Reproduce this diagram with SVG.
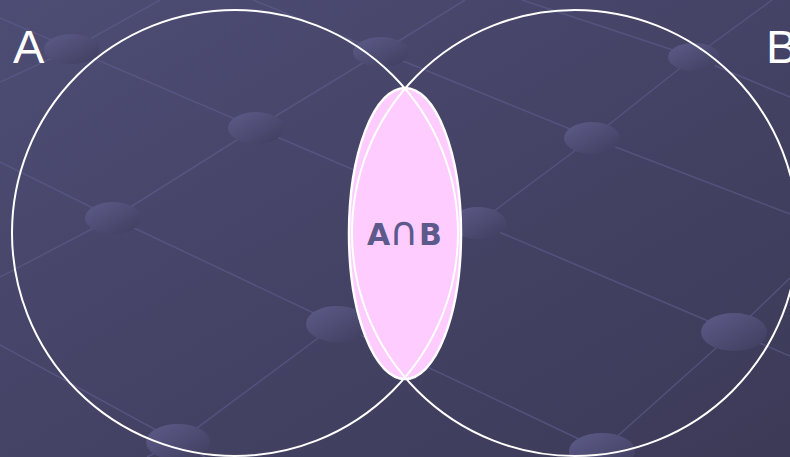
<svg xmlns="http://www.w3.org/2000/svg" width="790" height="457" viewBox="0 0 790 457">
<defs>
<linearGradient id="bg" x1="0" y1="0" x2="1" y2="1">
<stop offset="0" stop-color="#4d4c74"/>
<stop offset="1" stop-color="#3c3a57"/>
</linearGradient>
<linearGradient id="dot" x1="0" y1="0" x2="1" y2="1">
<stop offset="0" stop-color="#5d5c8a"/>
<stop offset="1" stop-color="#3f3d5d"/>
</linearGradient>
<style>
.grid{fill:none;stroke:#5e5d8c;stroke-width:1.5;opacity:0.65}
.dot{fill:url(#dot)}
.set{fill:none;stroke:#ffffff;stroke-width:2}
.lens{fill:#ffccff;stroke:#ffffff;stroke-width:2.5}
.lbl{font-family:"Liberation Sans",Arial,sans-serif;font-size:47px;fill:#ffffff}
.mid{font-family:"DejaVu Sans",Verdana,sans-serif;font-size:30px;font-weight:bold;fill:#5b5a8a}
.cap{font-size:40px;font-weight:normal}
</style>
</defs>
<rect width="790" height="457" fill="url(#bg)"/>
<g id="background">
<g class="grid">
<polyline points="0,18 72,49 256,128 478,223 734,332 790,356"/>
<polyline points="253,0 381,52 592,138 790,214"/>
<polyline points="0,162 113,218 337,324 602,450 616,457"/>
<polyline points="0,345 178,442 205,457"/>
<polyline points="522,0 694,57 790,97"/>
<polyline points="0,82 72,49 160,0"/>
<polyline points="0,277 113,218 256,128 381,52 465,0"/>
<polyline points="147,457 178,442 337,324 478,223 592,138 694,57 772,0"/>
<polyline points="593,457 602,450 734,332 790,278"/>
</g>
<ellipse class="dot" cx="72" cy="49" rx="28" ry="15"/>
<ellipse class="dot" cx="256" cy="128" rx="28" ry="16"/>
<ellipse class="dot" cx="113" cy="218" rx="28" ry="16"/>
<ellipse class="dot" cx="381" cy="52" rx="28" ry="15"/>
<ellipse class="dot" cx="592" cy="138" rx="28" ry="16"/>
<ellipse class="dot" cx="694" cy="57" rx="26" ry="14"/>
<ellipse class="dot" cx="478" cy="223" rx="28" ry="16"/>
<ellipse class="dot" cx="337" cy="324" rx="31" ry="18"/>
<ellipse class="dot" cx="178" cy="442" rx="32" ry="18"/>
<ellipse class="dot" cx="734" cy="332" rx="33" ry="19"/>
<ellipse class="dot" cx="602" cy="451" rx="33" ry="18"/>
</g>
<g id="intersection">
<ellipse class="lens" cx="405" cy="233.5" rx="56" ry="145.5"/>
<text class="mid" y="244.5"><tspan x="367">A</tspan><tspan class="cap" x="404" text-anchor="middle">∩</tspan><tspan x="419">B</tspan></text>
</g>
<g id="setA">
<circle class="set" cx="235" cy="233" r="223"/>
<text class="lbl" x="13" y="63">A</text>
</g>
<g id="setB">
<circle class="set" cx="575" cy="233" r="223"/>
<text class="lbl" x="766" y="63">B</text>
</g>
<g id="connectors"/>
</svg>
